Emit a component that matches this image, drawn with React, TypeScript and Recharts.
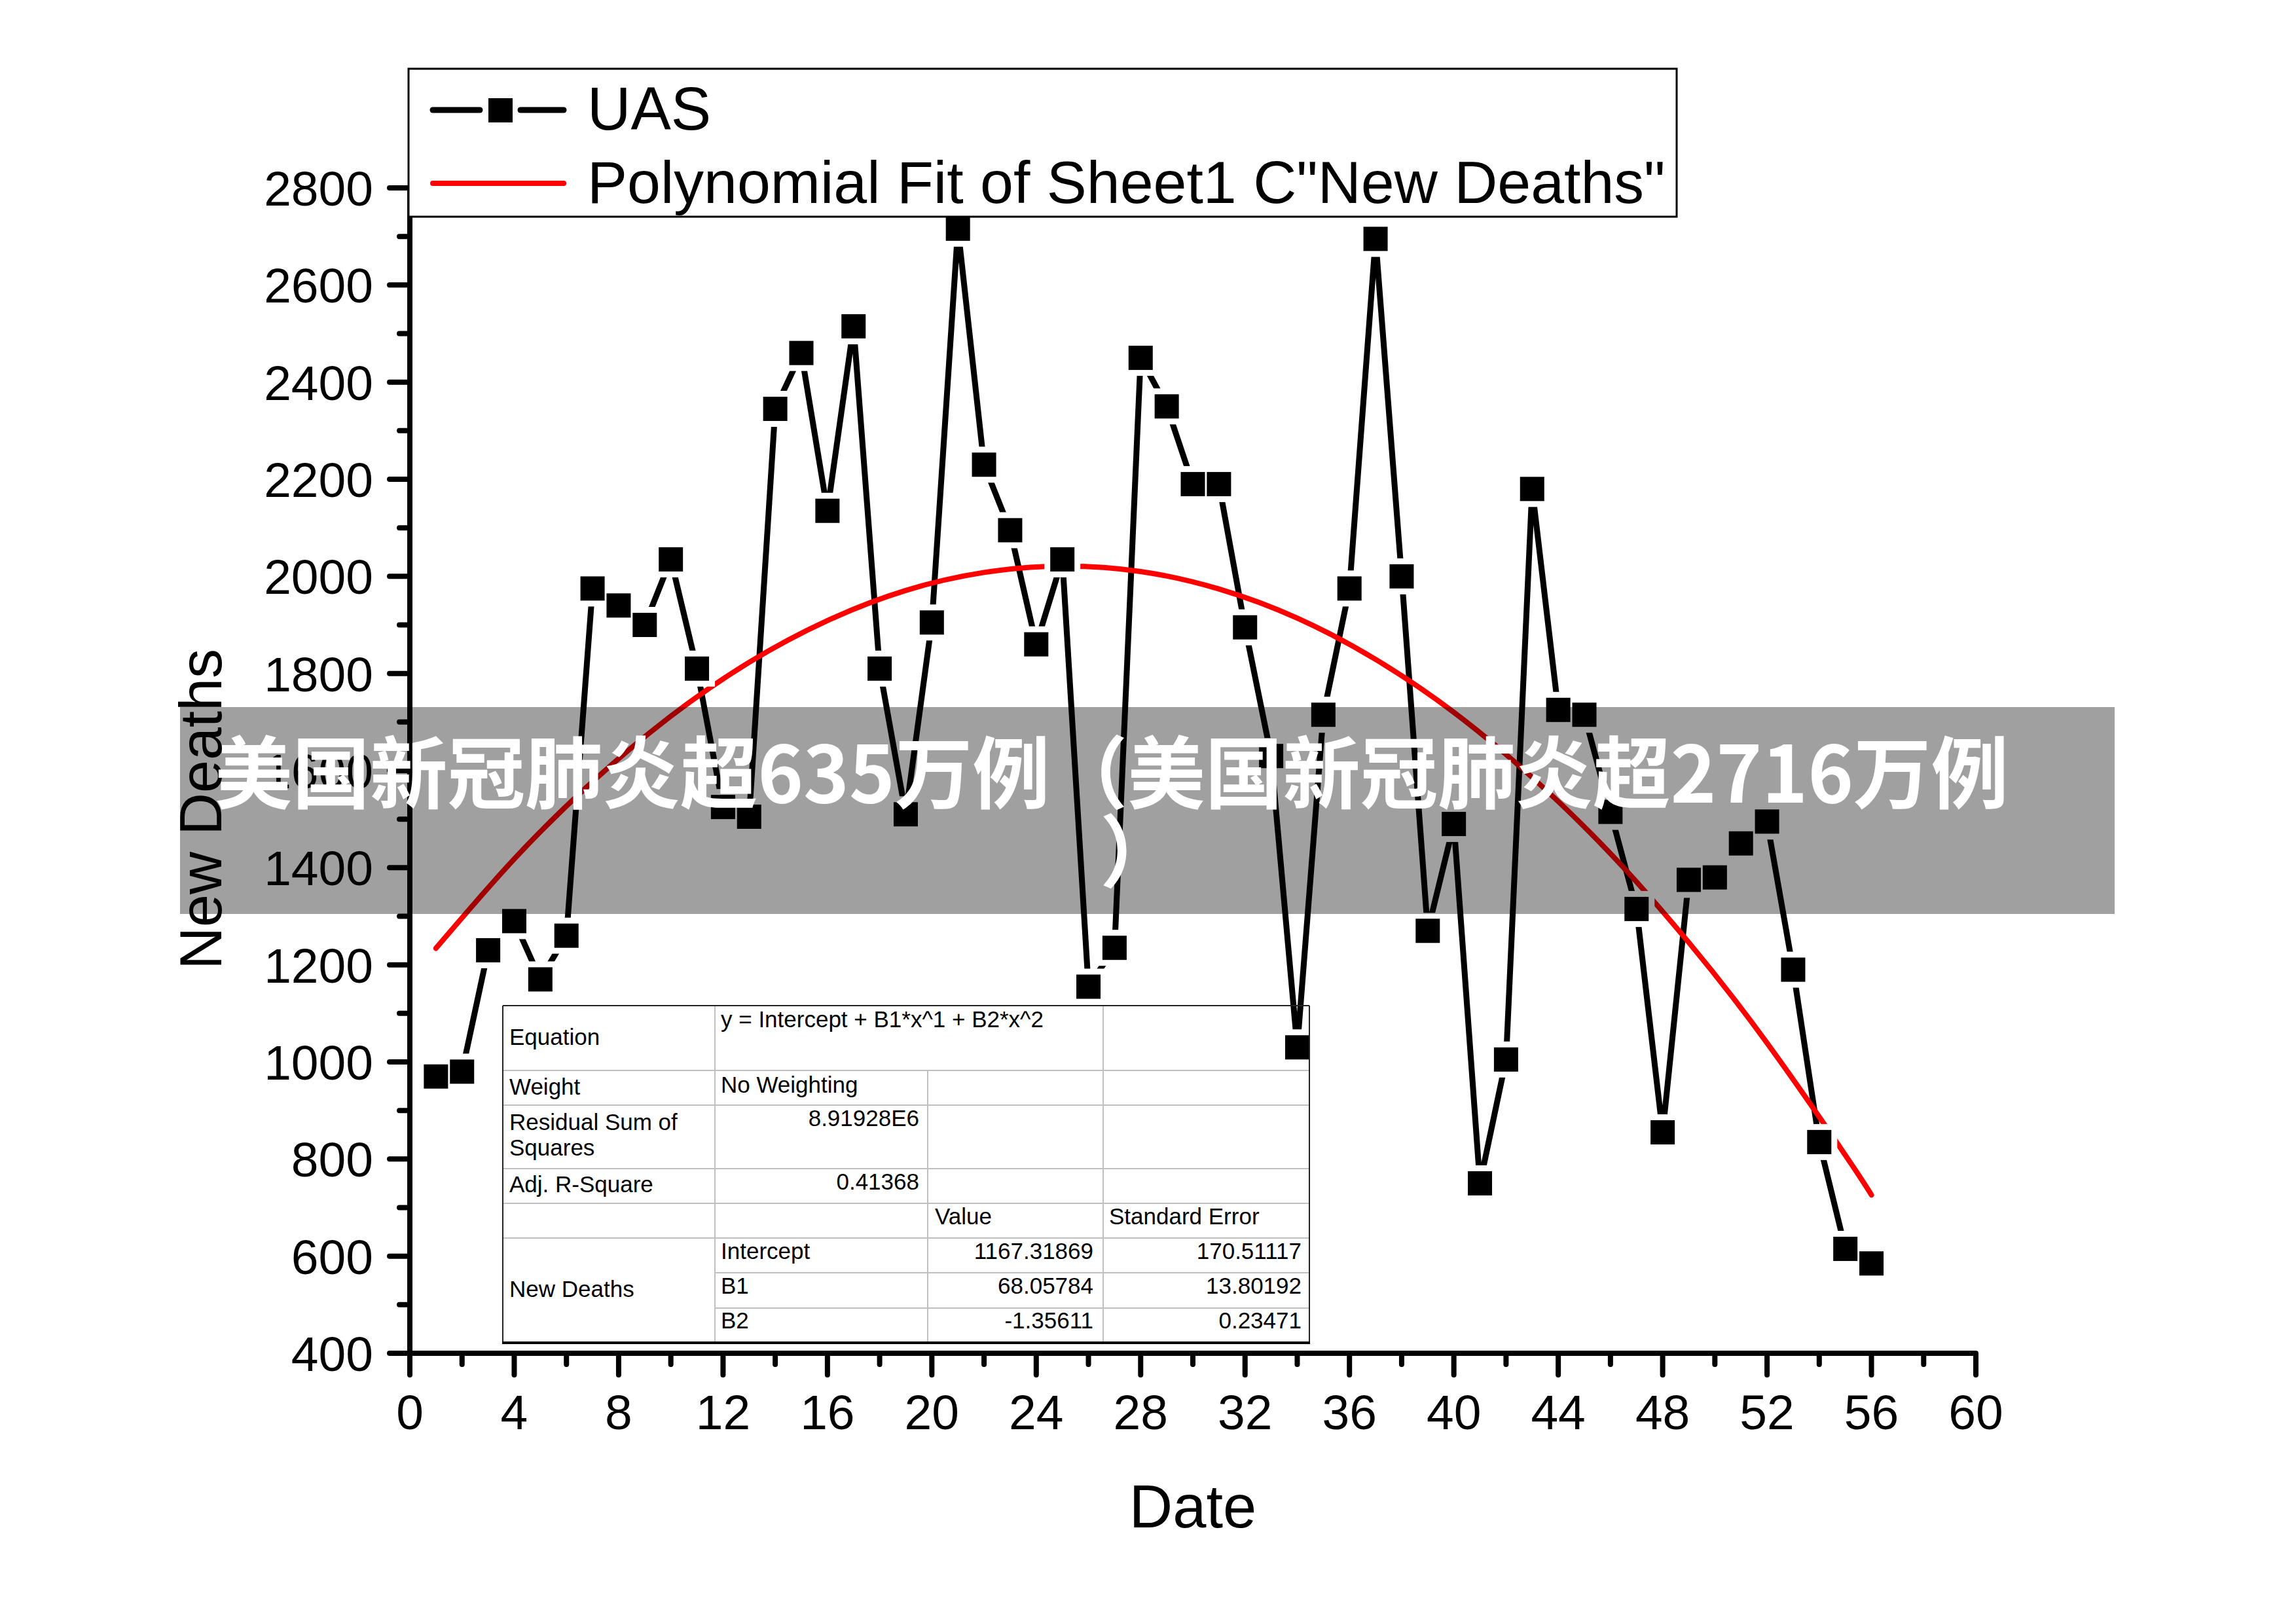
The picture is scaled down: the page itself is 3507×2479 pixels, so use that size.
import React from 'react';
import { ComposedChart, Line, XAxis, YAxis } from 'recharts';

const W = 3507;
const H = 2479;
const FONT = '"Liberation Sans", Arial, Helvetica, sans-serif';
const CJK = '"Noto Sans CJK SC", "Noto Sans", sans-serif';

// daily series
const days = [
  1, 2, 3, 4, 5, 6, 7, 8, 9, 10, 11, 12, 13, 14, 15, 16, 17, 18, 19, 20,
  21, 22, 23, 24, 25, 26, 27, 28, 29, 30, 31, 32, 33, 34, 35, 36, 37, 38, 39, 40,
  41, 42, 43, 44, 45, 46, 47, 48, 49, 50, 51, 52, 53, 54, 55, 56,
];
const newDeaths = [
  970, 980, 1230, 1290, 1170, 1260, 1975, 1940, 1900, 2035, 1810, 1525, 1505, 2345, 2460, 2135, 2515, 1810, 1510, 1905,
  2716, 2230, 2095, 1860, 2035, 1155, 1235, 2450, 2350, 2190, 2190, 1895, 1630, 1030, 1715, 1975, 2695, 2000, 1270, 1490,
  750, 1005, 2180, 1725, 1715, 1515, 1315, 855, 1375, 1380, 1450, 1495, 1190, 835, 615, 585,
];

// red fit curve
const fitDays = [1, 4, 7, 10, 13, 16, 19, 22, 25, 28, 31, 34, 37, 40, 43, 46, 49, 52, 55, 56];
const fitDeaths = [1234, 1418, 1577, 1712, 1823, 1909, 1971, 2008, 2021, 2010, 1974, 1914, 1829, 1720, 1586, 1429, 1246, 1039, 808, 726];

const xTicks = [0, 2, 4, 6, 8, 10, 12, 14, 16, 18, 20, 22, 24, 26, 28, 30, 32, 34, 36, 38, 40, 42, 44, 46, 48, 50, 52, 54, 56, 58, 60];
const yTicks = [400, 500, 600, 700, 800, 900, 1000, 1100, 1200, 1300, 1400, 1500, 1600, 1700, 1800, 1900, 2000, 2100, 2200, 2300, 2400, 2500, 2600, 2700, 2800];

const uas = days.map((d, i) => ({ day: d, deaths: newDeaths[i] }));
const fit = fitDays.map((d, i) => ({ day: d, deaths: fitDeaths[i] }));

const XTick = (props: any) => {
  const { x, y, payload } = props;
  const v = payload.value;
  const major = v % 4 === 0;
  return (
    <g>
      <line x1={x} y1={y} x2={x} y2={y + (major ? 33 : 17)} stroke="#000" strokeWidth={8} strokeLinecap="round" />
      {major && (
        <text x={x} y={y + 116} textAnchor="middle" fontSize={75} fontFamily={FONT} fill="#000">
          {v}
        </text>
      )}
    </g>
  );
};

const YTick = (props: any) => {
  const { x, y, payload } = props;
  const v = payload.value;
  const major = v % 200 === 0;
  return (
    <g>
      <line x1={x} y1={y} x2={x - (major ? 31 : 16)} y2={y} stroke="#000" strokeWidth={8} strokeLinecap="round" />
      {major && (
        <text x={x - 56} y={y + 27} textAnchor="end" fontSize={75} fontFamily={FONT} fill="#000">
          {v}
        </text>
      )}
    </g>
  );
};

// white gap round each symbol, then the symbol itself
const haloDot = (p: any) => (
  <rect key={`h${p.index}`} x={p.cx - 27.5} y={p.cy - 27.5} width={55} height={55} fill="#fff" />
);
const squareDot = (p: any) => (
  <rect key={`s${p.index}`} x={p.cx - 18.5} y={p.cy - 18.5} width={37} height={37} fill="#000" />
);

const grid = '#c0c0c0';

function FitTable() {
  const t = { fontFamily: FONT, fontSize: 35, fill: '#000' } as const;
  return (
    <g>
      {[1635, 1688, 1785, 1838, 1891].map((y) => (
        <line key={y} x1={768} x2={2000} y1={y} y2={y} stroke={grid} strokeWidth={2} />
      ))}
      {[1944, 1998].map((y) => (
        <line key={y} x1={1092} x2={2000} y1={y} y2={y} stroke={grid} strokeWidth={2} />
      ))}
      <line x1={1092} x2={1092} y1={1536} y2={2051} stroke={grid} strokeWidth={2} />
      <line x1={1685} x2={1685} y1={1536} y2={2051} stroke={grid} strokeWidth={2} />
      <line x1={1417} x2={1417} y1={1635} y2={2051} stroke={grid} strokeWidth={2} />
      <line x1={768} x2={2000} y1={1536} y2={1536} stroke="#222" strokeWidth={2} />
      <line x1={768} x2={768} y1={1536} y2={2051} stroke="#222" strokeWidth={2} />
      <line x1={2000} x2={2000} y1={1536} y2={2051} stroke="#222" strokeWidth={2} />
      <line x1={767} x2={2001} y1={2051} y2={2051} stroke="#000" strokeWidth={4} />

      <text x={778} y={1596} {...t}>Equation</text>
      <text x={1101} y={1569} {...t}>y = Intercept + B1*x^1 + B2*x^2</text>
      <text x={778} y={1672} {...t}>Weight</text>
      <text x={1101} y={1669} {...t}>No Weighting</text>
      <text x={778} y={1726} {...t}>Residual Sum of</text>
      <text x={778} y={1765} {...t}>Squares</text>
      <text x={1404} y={1720} textAnchor="end" {...t}>8.91928E6</text>
      <text x={778} y={1821} {...t}>Adj. R-Square</text>
      <text x={1404} y={1817} textAnchor="end" {...t}>0.41368</text>
      <text x={1428} y={1870} {...t}>Value</text>
      <text x={1694} y={1870} {...t}>Standard Error</text>
      <text x={778} y={1981} {...t}>New Deaths</text>
      <text x={1101} y={1923} {...t}>Intercept</text>
      <text x={1670} y={1923} textAnchor="end" {...t}>1167.31869</text>
      <text x={1988} y={1923} textAnchor="end" {...t}>170.51117</text>
      <text x={1101} y={1976} {...t}>B1</text>
      <text x={1670} y={1976} textAnchor="end" {...t}>68.05784</text>
      <text x={1988} y={1976} textAnchor="end" {...t}>13.80192</text>
      <text x={1101} y={2029} {...t}>B2</text>
      <text x={1670} y={2029} textAnchor="end" {...t}>-1.35611</text>
      <text x={1988} y={2029} textAnchor="end" {...t}>0.23471</text>
    </g>
  );
}

export default function App() {
  return (
    <div style={{ position: 'absolute', left: 0, top: 0, width: W, height: H, background: '#fff' }}>
      <div style={{ position: 'absolute', left: 0, top: 0 }}>
        <ComposedChart width={W} height={H} margin={{ top: 287, right: 489, left: 526, bottom: 312 }}>
          <XAxis
            type="number"
            dataKey="day"
            domain={[0, 60]}
            ticks={xTicks}
            interval={0}
            height={100}
            tickSize={0}
            tickMargin={0}
            tickLine={false}
            axisLine={{ stroke: '#000', strokeWidth: 8 }}
            tick={XTick}
          />
          <YAxis
            type="number"
            domain={[400, 2800]}
            ticks={yTicks}
            interval={0}
            width={100}
            tickSize={0}
            tickMargin={0}
            tickLine={false}
            axisLine={{ stroke: '#000', strokeWidth: 8 }}
            tick={YTick}
          />
          <Line data={uas} dataKey="deaths" type="linear" stroke="#000" strokeWidth={9} strokeLinecap="round" strokeLinejoin="round" dot={false} activeDot={false} isAnimationActive={false} />
          <Line data={uas} dataKey="deaths" type="linear" stroke="none" dot={haloDot} activeDot={false} isAnimationActive={false} />
          <Line data={uas} dataKey="deaths" type="linear" stroke="none" dot={squareDot} activeDot={false} isAnimationActive={false} />
          <Line data={fit} dataKey="deaths" type="natural" stroke="#ff0000" strokeWidth={8} strokeLinecap="round" dot={false} activeDot={false} isAnimationActive={false} />
        </ComposedChart>
      </div>

      <svg width={W} height={H} style={{ position: 'absolute', left: 0, top: 0, pointerEvents: 'none' }}>
        <FitTable />

        {/* legend */}
        <rect x={624} y={105} width={1937} height={226} fill="#fff" stroke="#000" strokeWidth={3} />
        <line x1={661} x2={733} y1={168} y2={168} stroke="#000" strokeWidth={9} strokeLinecap="round" />
        <line x1={795} x2={861} y1={168} y2={168} stroke="#000" strokeWidth={9} strokeLinecap="round" />
        <rect x={746} y={150} width={37} height={37} fill="#000" />
        <line x1={661} x2={861} y1={280} y2={280} stroke="#ff0000" strokeWidth={8} strokeLinecap="round" />
        <text x={897} y={198} fontFamily={FONT} fontSize={92} fill="#000">UAS</text>
        <text x={897} y={310} fontFamily={FONT} fontSize={91.5} fill="#000">Polynomial Fit of Sheet1 C"New Deaths"</text>

        {/* axis titles */}
        <text x={1822} y={2333} textAnchor="middle" fontFamily={FONT} fontSize={92} fill="#000">Date</text>
        <text x={338} y={1236} textAnchor="middle" fontFamily={FONT} fontSize={90} fill="#000" transform="rotate(-90 338 1236)">
          New Deaths
        </text>

        {/* watermark band */}
        <rect x={275} y={1080} width={2955} height={316} fill="rgba(0,0,0,0.373)" />
        <text
          x={1698}
          y={1226}
          textAnchor="middle"
          fontFamily={CJK}
          fontWeight={700}
          fontSize={120}
          fill="#fff"
          textLength={2740}
          lengthAdjust="spacingAndGlyphs"
        >
          美国新冠肺炎超635万例（美国新冠肺炎超2716万例
        </text>
        <text x={1680} y={1346} fontFamily={CJK} fontWeight={700} fontSize={120} fill="#fff">
          ）
        </text>
      </svg>
    </div>
  );
}
